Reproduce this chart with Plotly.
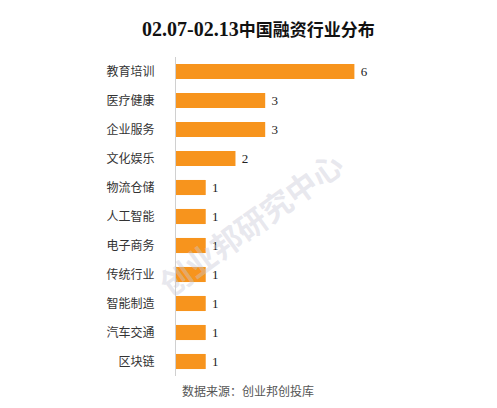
import plotly.graph_objects as go

categories = ["教育培训", "医疗健康", "企业服务", "文化娱乐", "物流仓储", "人工智能",
              "电子商务", "传统行业", "智能制造", "汽车交通", "区块链"]
values = [6, 3, 3, 2, 1, 1, 1, 1, 1, 1, 1]
title_date = "02.07-02.13"
title_main = "中国融资行业分布"
source_text = "数据来源：创业邦创投库"
watermark_text = "创业邦研究中心"

fig = go.Figure(go.Bar(
    x=values, y=categories, orientation="h",
    marker=dict(color="#F7941D", line=dict(width=0)),
    text=["\u00a0" + str(v) for v in values], textposition="outside",
    textfont=dict(family="Liberation Serif, Noto Sans CJK SC", size=13, color="#222"),
    cliponaxis=False,
))

fig.update_layout(
    width=489, height=400,
    margin=dict(l=168, r=98, t=49, b=32),
    paper_bgcolor="white", plot_bgcolor="white",
    bargap=0.48,
    showlegend=False,
    xaxis=dict(range=[0, 7.5], visible=False, fixedrange=True),
    yaxis=dict(categoryorder="array", categoryarray=categories[::-1],
               showline=True, linecolor="#d0d0d0", linewidth=1,
               showgrid=False, ticks="", ticklabelstandoff=18,
               tickfont=dict(family="Noto Sans CJK SC", size=12, color="#333")),
    font=dict(family="Noto Sans CJK SC"),
)

fig.add_annotation(
    text="<b><span style='font-family:Liberation Serif;font-size:20px'>" + title_date
         + "</span>" + title_main + "</b>",
    xref="paper", yref="paper", x=(250 - 168) / 223, y=(368 - 20) / 319,
    xanchor="center", yanchor="middle", showarrow=False,
    font=dict(family="Noto Sans CJK SC", size=17, color="#111"))

fig.add_annotation(text="<b>" + watermark_text + "</b>", xref="paper", yref="paper", x=0.335, y=0.48,
                   showarrow=False, textangle=-36,
                   font=dict(family="Noto Sans CJK SC", size=31, color="rgba(200,200,214,0.42)"))
fig.add_annotation(text=source_text, xref="paper", yref="paper", x=0.018, y=-0.047,
                   xanchor="left", yanchor="middle", showarrow=False,
                   font=dict(family="Noto Sans CJK SC", size=12, color="#555"))

fig.write_html("out.html")
